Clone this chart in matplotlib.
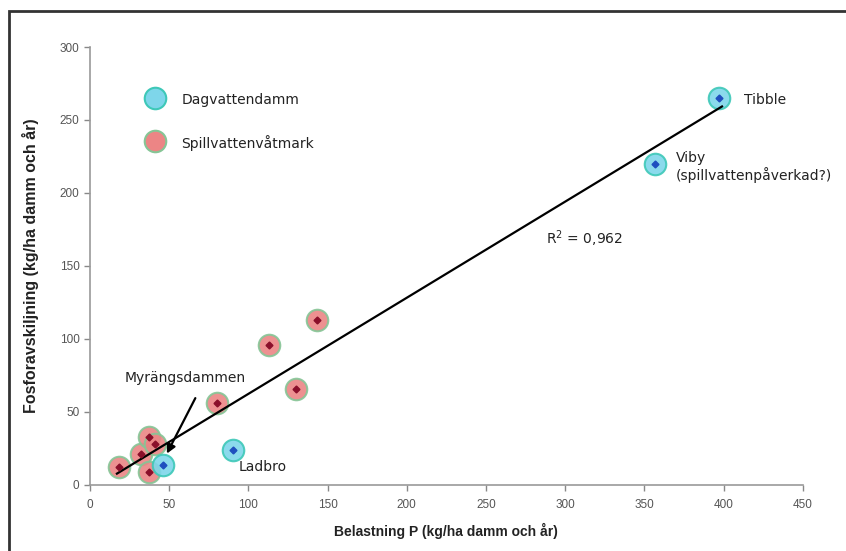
import numpy as np
import matplotlib
matplotlib.use("Agg")
import matplotlib.pyplot as plt
from matplotlib.patches import Rectangle

# Stormwater ponds (Dagvattendamm)
dag_names = ["Myrängsdammen", "Ladbro", "Viby", "Tibble"]
dag_load = [46, 90, 357, 397]
dag_removal = [14, 24, 220, 265]

# Wastewater wetlands (Spillvattenvåtmark)
spill_load = [18, 32, 37, 41, 37, 80, 113, 130, 143]
spill_removal = [12, 21, 33, 28, 9, 56, 96, 66, 113]

x_ticks = [0, 50, 100, 150, 200, 250, 300, 350, 400, 450]
y_ticks = [0, 50, 100, 150, 200, 250, 300]

r2_text = "R$^2$ = 0,962"

blue_fill, blue_edge, blue_dot = "#7ed6ea", "#3ec8b8", "#1f4fbf"
red_fill, red_edge, red_dot = "#ec8585", "#86c596", "#8a0f2a"

fig = plt.figure(figsize=(8.46, 5.51), dpi=100)
ax = fig.add_axes([0.1064, 0.1198, 0.8425, 0.7949])

# outer frame
fig.patches.append(Rectangle((0.0106, -0.05), 1.2, 1.03, transform=fig.transFigure,
                             fill=False, edgecolor="#333333", linewidth=2))

tick_font = {"family": ["Liberation Sans", "DejaVu Sans"], "size": 8.5}
note_font = ["DejaVu Sans"]

# regression line across the data range
all_x = np.array(dag_load + spill_load, dtype=float)
all_y = np.array(dag_removal + spill_removal, dtype=float)
slope, intercept = np.polyfit(all_x, all_y, 1)
xs = np.array([all_x.min() - 1, all_x.max() + 2])
ax.plot(xs, slope * xs + intercept, color="black", lw=1.6, zorder=3)

ax.plot(spill_load, spill_removal, "o", ms=15.5, mfc=red_fill, mec=red_edge, mew=1.5,
        alpha=0.9, zorder=2)
ax.plot(spill_load, spill_removal, "D", ms=3.5, color=red_dot, zorder=4)
ax.plot(dag_load, dag_removal, "o", ms=15.5, mfc=blue_fill, mec=blue_edge, mew=1.5,
        alpha=0.9, zorder=2)
ax.plot(dag_load, dag_removal, "D", ms=3.5, color=blue_dot, zorder=4)

# legend drawn as markers and labels
for yy, fc, ec, lab in [(0.884, blue_fill, blue_edge, "Dagvattendamm"),
                        (0.786, red_fill, red_edge, "Spillvattenvåtmark")]:
    ax.plot([0.091], [yy], "o", ms=15.5, mfc=fc, mec=ec, mew=1.5,
            transform=ax.transAxes, clip_on=False)
    ax.text(0.128, yy - 0.005, lab, transform=ax.transAxes, va="center", ha="left",
            fontsize=10, family=note_font, color="#222222")

# point labels
ax.text(413, 264, "Tibble", fontsize=10, family=note_font, va="center", color="#222222")
ax.text(370, 229, "Viby\n(spillvattenpåverkad?)", fontsize=10, family=note_font,
        va="top", ha="left", linespacing=1.2, color="#222222")
ax.text(94, 12, "Ladbro", fontsize=10, family=note_font, va="center", color="#222222")
ax.text(312, 169, r2_text, fontsize=10, family=note_font, va="center", ha="center",
        color="#222222")
ax.text(60, 73, "Myrängsdammen", fontsize=10, family=note_font, ha="center",
        va="center", color="#222222")
ax.annotate("", xy=(48.5, 21.5), xytext=(66.5, 59.5),
            arrowprops=dict(arrowstyle="-|>", color="black", lw=1.6,
                            shrinkA=0, shrinkB=0, mutation_scale=13))

ax.set_xlim(0, 450)
ax.set_ylim(0, 300)
ax.set_xticks(x_ticks)
ax.set_yticks(y_ticks)
ax.set_xticklabels([str(t) for t in x_ticks], fontdict=tick_font, color="#555555")
ax.set_yticklabels([str(t) for t in y_ticks], fontdict=tick_font, color="#555555")
ax.tick_params(axis="both", color="#888888", length=4, width=1)
ax.tick_params(axis="x", pad=6)
for side in ("top", "right"):
    ax.spines[side].set_visible(False)
for side in ("left", "bottom"):
    ax.spines[side].set_color("#999999")
    ax.spines[side].set_linewidth(1.2)

ax.set_xlabel("Belastning P (kg/ha damm och år)", fontsize=10, fontweight="bold",
              family=["Liberation Sans", "DejaVu Sans"], labelpad=9, color="#222222")
ax.set_ylabel("Fosforavskiljning (kg/ha damm och år)", fontsize=11.5, fontweight="bold",
              family=["Liberation Sans", "DejaVu Sans"], labelpad=15, color="#222222")

fig.savefig("out.png", dpi=100)
